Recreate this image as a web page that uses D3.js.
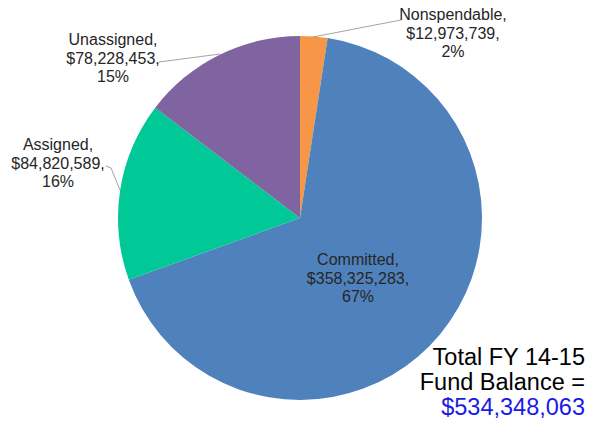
<!DOCTYPE html>
<html>
<head>
<meta charset="utf-8">
<script src="https://cdn.jsdelivr.net/npm/d3@7"></script>
<style>
  body { margin: 0; background: #fff; }
  svg { font-family: "Liberation Sans", Arial, sans-serif; }
</style>
</head>
<body>
<svg id="canvas"></svg>
<script>
const categories = ["Nonspendable", "Committed", "Assigned", "Unassigned"];
const values = [12973739, 358325283, 84820589, 78228453];
const valueLabels = ["$12,973,739", "$358,325,283", "$84,820,589", "$78,228,453"];
const percentLabels = ["2%", "67%", "16%", "15%"];
const colors = ["#F79646", "#4F81BD", "#00C896", "#8064A2"];
const totalLines = ["Total FY 14-15", "Fund Balance =", "$534,348,063"];

const width = 596;
const height = 422;
const cx = 300;
const cy = 218;
const radius = 182;

const canvas = d3.select("#canvas");
canvas.attr("width", width);
canvas.attr("height", height);

const data = categories.map((c, i) => ({
  name: c,
  value: values[i],
  valueLabel: valueLabels[i],
  pct: percentLabels[i],
  color: colors[i],
}));

const pie = d3.pie().sort(null).value((d) => d.value);
const arc = d3.arc().innerRadius(0).outerRadius(radius);
const arcs = pie(data);

const g = canvas.append("g").attr("transform", `translate(${cx}, ${cy})`);

g.selectAll("path")
  .data(arcs)
  .enter()
  .append("path")
  .attr("d", arc)
  .attr("fill", (d) => d.data.color);

// label positions relative to pie center (x = text center, y = first baseline)
const labelPos = {
  Nonspendable: [153, -198],
  Committed: [58, 47],
  Assigned: [-242, -68],
  Unassigned: [-187, -173],
};
// leader lines: from text side to the pie edge
const leaders = {
  Nonspendable: [[101, -198], [13, -181]],
  Assigned: [[-194, -52], [-189, -50], [-180, -28]],
  Unassigned: [[-141, -156], [-80, -164]],
};

Object.keys(leaders).forEach((k) => {
  g.append("path")
    .attr("d", d3.line()(leaders[k]))
    .attr("fill", "none")
    .attr("stroke", "#8c8c8c")
    .attr("stroke-width", 0.8);
});

const labels = g.selectAll("text.label")
  .data(arcs)
  .enter()
  .append("text")
  .attr("class", "label")
  .attr("text-anchor", "middle")
  .attr("font-size", 16)
  .attr("fill", "#262626");

labels.each(function (d) {
  const p = labelPos[d.data.name];
  const lines = [d.data.name + ",", d.data.valueLabel + ",", d.data.pct];
  d3.select(this)
    .selectAll("tspan")
    .data(lines)
    .enter()
    .append("tspan")
    .attr("x", p[0])
    .attr("y", (l, i) => p[1] + i * 18.5)
    .text((l) => l);
});

canvas.selectAll("text.total")
  .data(totalLines)
  .enter()
  .append("text")
  .attr("class", "total")
  .attr("x", 585)
  .attr("y", (d, i) => 365 + i * 25)
  .attr("text-anchor", "end")
  .attr("font-size", 23.5)
  .attr("fill", (d, i) => (i === 2 ? "#1a1ae6" : "#000"))
  .text((d) => d);
</script>
</body>
</html>
